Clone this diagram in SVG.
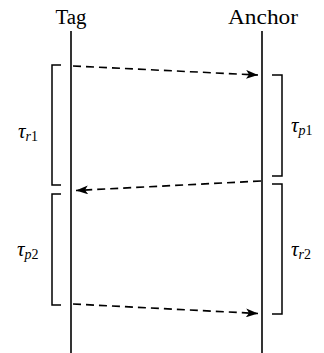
<svg xmlns="http://www.w3.org/2000/svg" width="324" height="353" viewBox="0 0 324 353">
<style>
.life{stroke:#000;stroke-width:1.6;fill:none}
.br{stroke:#000;stroke-width:1.5;fill:none}
.msg{stroke:#000;stroke-width:1.6;fill:none;stroke-dasharray:8 5}
.lbl{font-family:"Liberation Serif","DejaVu Serif",serif;font-size:20px;fill:#000}
.tau{font-family:"Liberation Serif","DejaVu Serif",serif;font-size:21px;font-style:italic;fill:#000}
.sub{font-size:14px}
.num{font-style:normal}
</style>
<defs>
<marker id="ah" viewBox="0 0 12 9" refX="12" refY="4.5" markerWidth="12" markerHeight="9" markerUnits="userSpaceOnUse" orient="auto">
<path d="M0,0 L12,4.5 L0,9 L3,4.5 Z" fill="#000"/>
</marker>
</defs>
<g id="tag">
<text class="lbl" x="71" y="24" text-anchor="middle" textLength="31" lengthAdjust="spacingAndGlyphs">Tag</text>
<line class="life" x1="71" y1="31" x2="71" y2="353"/>
</g>
<g id="anchor">
<text class="lbl" x="263" y="24" text-anchor="middle" textLength="70" lengthAdjust="spacingAndGlyphs">Anchor</text>
<line class="life" x1="262" y1="31" x2="262" y2="353"/>
</g>
<g id="tau_r1">
<path class="br" d="M61,65 H52 V185 H61"/>
<text class="tau" x="18" y="138">τ<tspan class="sub" dy="3">r</tspan><tspan class="sub num">1</tspan></text>
</g>
<g id="tau_p2">
<path class="br" d="M61,194 H52 V305 H61"/>
<text class="tau" x="17" y="256">τ<tspan class="sub" dy="3">p</tspan><tspan class="sub num">2</tspan></text>
</g>
<g id="tau_p1">
<path class="br" d="M272,75 H282 V176 H272"/>
<text class="tau" x="291" y="132">τ<tspan class="sub" dy="3">p</tspan><tspan class="sub num">1</tspan></text>
</g>
<g id="tau_r2">
<path class="br" d="M272,184 H282 V314 H272"/>
<text class="tau" x="291" y="256">τ<tspan class="sub" dy="3">r</tspan><tspan class="sub num">2</tspan></text>
</g>
<g id="connectors">
<line class="msg" x1="73" y1="66" x2="258" y2="75" marker-end="url(#ah)"/>
<line class="msg" x1="261" y1="181" x2="76" y2="190.5" marker-end="url(#ah)"/>
<line class="msg" x1="73" y1="304" x2="258" y2="313.5" marker-end="url(#ah)"/>
</g>
</svg>
